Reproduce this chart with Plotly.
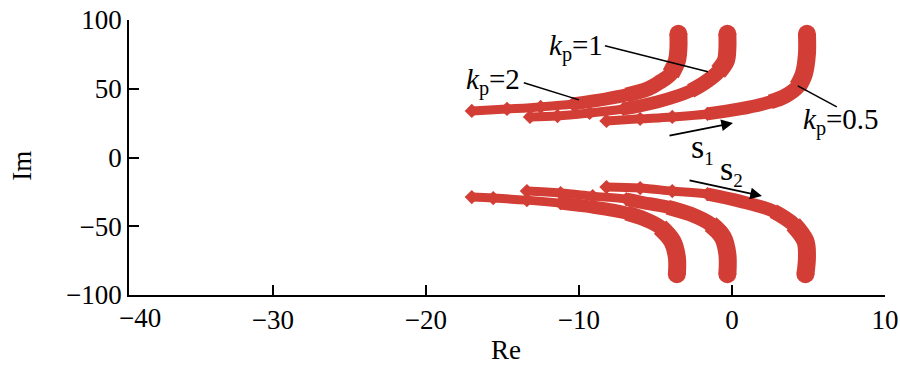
import plotly.graph_objects as go

# ---- data (Re, Im) ----
kp_labels = ["2", "1", "0.5"]

kp2_up_re = [-3.5, -3.5, -3.6, -4.0, -4.7, -5.5, -6.9, -8.2, -10.4, -12.5, -14.7, -17.0]
kp2_up_im = [90.0, 79.1, 70.3, 60.8, 55.0, 49.9, 45.5, 42.6, 38.9, 36.8, 35.3, 33.9]
kp1_up_re = [-0.3, -0.3, -0.4, -0.9, -1.8, -2.7, -4.9, -7.1, -9.3, -11.4, -13.2]
kp1_up_im = [90.0, 79.1, 70.3, 62.3, 54.3, 48.5, 40.4, 35.3, 32.4, 30.2, 29.5]
kp05_up_re = [4.9, 4.9, 4.7, 4.3, 3.5, 2.5, 0.5, -1.6, -3.9, -6.0, -8.2]
kp05_up_im = [90.0, 75.4, 60.8, 51.4, 44.8, 40.4, 35.3, 31.7, 29.5, 28.1, 26.6]

kp2_lo_re = [-3.6, -3.6, -3.9, -4.7, -5.7, -6.9, -9.1, -11.2, -13.4, -15.6, -17.0]
kp2_lo_im = [-84.9, -72.5, -60.8, -50.6, -44.8, -40.4, -36.1, -33.2, -31.0, -29.5, -28.8]
kp1_lo_re = [-0.3, -0.3, -0.6, -1.4, -2.7, -4.2, -6.0, -6.9, -9.1, -11.2, -13.4]
kp1_lo_im = [-84.9, -70.3, -57.9, -48.5, -41.2, -36.1, -32.4, -30.3, -28.1, -25.9, -24.4]
kp05_lo_re = [4.8, 4.9, 4.8, 4.0, 2.7, 0.5, -1.6, -3.9, -6.0, -8.2]
kp05_lo_im = [-84.9, -72.5, -60.8, -48.5, -39.0, -31.7, -26.6, -24.4, -22.2, -21.5]

x_ticks = [-30, -20, -10, 0, 10]
y_ticks = [-100, -50, 0, 50, 100]

RED = "#d23e35"
FONT = "Liberation Serif"

curves = [
    (kp2_up_re, kp2_up_im), (kp1_up_re, kp1_up_im), (kp05_up_re, kp05_up_im),
    (kp2_lo_re, kp2_lo_im), (kp1_lo_re, kp1_lo_im), (kp05_lo_re, kp05_lo_im),
]

fig = go.Figure()
for xs, ys in curves:
    n = len(xs)
    for upto, w in ((n, 9), (n - 3, 13), (n - 5, 15), (4, 18)):
        fig.add_trace(go.Scatter(
            x=xs[:upto], y=ys[:upto], mode="lines",
            line=dict(color=RED, width=w, shape="spline"),
            hoverinfo="skip", showlegend=False))
    fig.add_trace(go.Scatter(
        x=[xs[0]], y=[ys[0]], mode="markers",
        marker=dict(color=RED, size=18, symbol="circle"),
        hoverinfo="skip", showlegend=False))
    fig.add_trace(go.Scatter(
        x=xs[-4:], y=ys[-4:], mode="markers",
        marker=dict(color=RED, size=11, symbol="diamond"),
        hoverinfo="skip", showlegend=False))

# leader lines
leaders = [
    ((-8.3, 81.2), (-1.57, 62.3)),
    ((-13.6, 54.3), (-10.0, 41.9)),
    ((4.3, 52.1), (6.85, 36.8)),
]
for (x0, y0), (x1, y1) in leaders:
    fig.add_shape(type="line", xref="x", yref="y", x0=x0, y0=y0, x1=x1, y1=y1,
                  line=dict(color="black", width=1.5))

ann = []
lab = dict(font=dict(family=FONT, size=29, color="black"), showarrow=False,
           xref="x", yref="y")
ann.append(dict(text="<i>k</i><sub>p</sub>=" + kp_labels[1], x=-8.3, y=80,
                xanchor="right", yanchor="middle", **lab))
ann.append(dict(text="<i>k</i><sub>p</sub>=" + kp_labels[0], x=-13.7, y=55,
                xanchor="right", yanchor="middle", **lab))
ann.append(dict(text="<i>k</i><sub>p</sub>=" + kp_labels[2], x=4.5, y=26,
                xanchor="left", yanchor="middle", **lab))

# direction arrows
for (hx, hy), (tx, ty) in (((0.07, 25.1), (-4.18, 15.7)), ((1.96, -28.0), (-2.87, -16.4))):
    ann.append(dict(x=hx, y=hy, ax=tx, ay=ty, xref="x", yref="y", axref="x", ayref="y",
                    text="", showarrow=True, arrowhead=2, arrowsize=1.3,
                    arrowwidth=1.8, arrowcolor="black", standoff=0))
sfont = dict(family=FONT, size=34, color="black")
ann.append(dict(text="s<sub><span style='font-size:19px'>1</span></sub>", x=-1.9, y=6.5,
                xref="x", yref="y", showarrow=False, font=sfont,
                xanchor="center", yanchor="middle"))
ann.append(dict(text="s<sub><span style='font-size:19px'>2</span></sub>", x=0.0, y=-9.5,
                xref="x", yref="y", showarrow=False, font=sfont,
                xanchor="center", yanchor="middle"))

# axis titles and the -40 label
tfont = dict(family=FONT, size=27, color="black")
ann.append(dict(text="Im", x=-0.1415, y=0.47, xref="paper", yref="paper",
                xanchor="center", yanchor="middle",
                textangle=-90, showarrow=False, font=tfont))
ann.append(dict(text="Re", x=0.4987, y=-0.2, xref="paper", yref="paper",
                xanchor="center", yanchor="middle", showarrow=False, font=tfont))
ann.append(dict(text="\u221240", x=0.0146, y=-0.084, xref="paper", yref="paper",
                xanchor="center", yanchor="middle", showarrow=False, font=tfont))

fig.update_layout(
    width=900, height=368,
    margin=dict(l=129, r=15, t=20, b=73),
    paper_bgcolor="white", plot_bgcolor="white",
    annotations=ann,
    font=dict(family=FONT, size=27, color="black"),
)
fig.update_xaxes(range=[-39.4, 10], tickvals=x_ticks, ticks="inside", ticklen=10,
                 tickwidth=1.5, tickcolor="black", showline=True, linecolor="black",
                 linewidth=1.5, showgrid=False, zeroline=False, mirror=False,
                 tickfont=tfont, automargin=False, ticklabeloverflow="allow")
fig.update_yaxes(range=[-100, 100], tickvals=y_ticks, ticks="inside", ticklen=10,
                 tickwidth=1.5, tickcolor="black", showline=True, linecolor="black",
                 linewidth=1.5, showgrid=False, zeroline=False, mirror=False,
                 tickfont=tfont, automargin=False, ticklabeloverflow="allow")

# remove the page's default body margin so the 900x368 figure fills the window
fig.write_html("out.html",
               config={"displayModeBar": False},
               post_script="document.body.style.margin='0';"
                           "document.body.style.overflow='hidden';")
